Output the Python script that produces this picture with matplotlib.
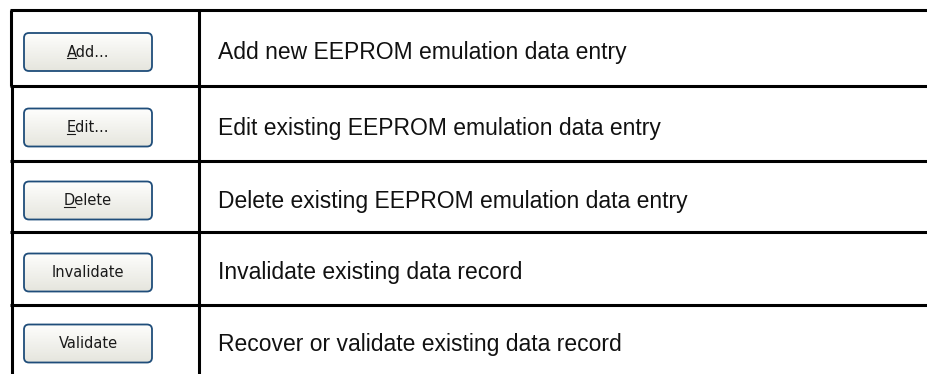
import numpy as np
import matplotlib
matplotlib.use("Agg")
import matplotlib.pyplot as plt
from matplotlib.patches import FancyBboxPatch
from matplotlib.lines import Line2D

# ---- data ----
button_labels = ["Add...", "Edit...", "Delete", "Invalidate", "Validate"]
mnemonic_index = [0, 0, 0, None, None]
descriptions = [
    "Add new EEPROM emulation data entry",
    "Edit existing EEPROM emulation data entry",
    "Delete existing EEPROM emulation data entry",
    "Invalidate existing data record",
    "Recover or validate existing data record",
]
row_edges = [10, 86, 161, 232, 305, 374]

W, H = 928, 374
fig = plt.figure(figsize=(W / 100, H / 100), dpi=100)
ax = fig.add_axes([0, 0, 1, 1])
ax.set_xlim(0, W)
ax.set_ylim(H, 0)
ax.axis("off")

lw = 2.2
for y in row_edges[:-1]:
    ax.add_line(Line2D([10, W], [y, y], color="black", lw=lw, solid_capstyle="butt"))
ax.add_line(Line2D([11, 11], [row_edges[0], row_edges[1]], color="black", lw=lw, solid_capstyle="butt"))
ax.add_line(Line2D([12.5, 12.5], [row_edges[1], H], color="black", lw=lw, solid_capstyle="butt"))
ax.add_line(Line2D([199, 199], [row_edges[0], H], color="black", lw=lw, solid_capstyle="butt"))

grad = np.linspace(0, 1, 64).reshape(-1, 1)
top = np.array([0.995, 0.995, 0.99])
bot = np.array([0.90, 0.90, 0.87])
img = top[None, None, :] * (1 - grad[:, :, None]) + bot[None, None, :] * grad[:, :, None]

fig.canvas.draw()
renderer = fig.canvas.get_renderer()
label_font = dict(family="DejaVu Sans", fontsize=10.5, color="#1a1a1a")

for i, (lab, desc) in enumerate(zip(button_labels, descriptions)):
    y0, y1 = row_edges[i], row_edges[i + 1]
    yc = (y0 + y1) / 2 + 4
    bx0, bx1 = 24, 152
    bh = 38
    by0 = yc - bh / 2
    patch = FancyBboxPatch((bx0, by0), bx1 - bx0, bh,
                           boxstyle="round,pad=0,rounding_size=5",
                           facecolor="none", edgecolor="#1f4d7a", lw=1.3, zorder=3)
    ax.add_patch(patch)
    im = ax.imshow(img, extent=(bx0, bx1, by0 + bh, by0), aspect="auto", zorder=2,
                   interpolation="bilinear")
    im.set_clip_path(patch)
    t = ax.text((bx0 + bx1) / 2, yc, lab, ha="center", va="center", zorder=4, **label_font)
    if mnemonic_index[i] is not None:
        fig.canvas.draw()
        bb = t.get_window_extent(renderer)
        tmp = ax.text(0, 0, lab[mnemonic_index[i]], **label_font)
        cb = tmp.get_window_extent(renderer)
        tmp.remove()
        inv = ax.transData.inverted()
        (xa, ya) = inv.transform((bb.x0, bb.y0))
        (xb, _) = inv.transform((bb.x0 + cb.width, bb.y0))
        ax.add_line(Line2D([xa + 0.5, xb - 0.5], [ya - 1.5, ya - 1.5], color="#1a1a1a", lw=0.8, zorder=5))
    ax.text(218, (y0 + y1) / 2 + 11, desc, ha="left", va="baseline",
            family="Liberation Sans", fontsize=16.5, color="#111111")

fig.savefig("out.png", dpi=100)
